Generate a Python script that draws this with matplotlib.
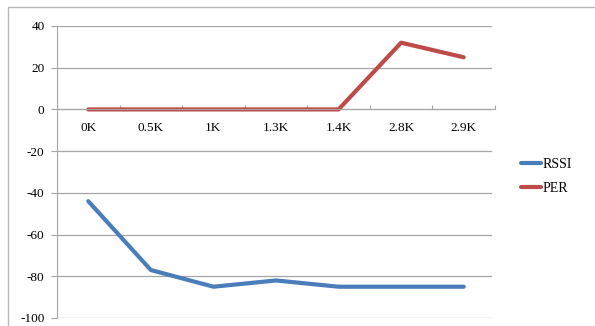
import matplotlib.pyplot as plt
from matplotlib.patches import Rectangle

# sample points along the x axis
distances = ['0K', '0.5K', '1K', '1.3K', '1.4K', '2.8K', '2.9K']
rssi = [-44, -77, -85, -82, -85, -85, -85]
per = [0, 0, 0, 0, 0, 32, 25]
y_ticks = [40, 20, 0, -20, -40, -60, -80, -100]

plt.rcParams['font.family'] = ['Liberation Serif', 'DejaVu Serif']

fig = plt.figure(figsize=(5.95, 3.26), dpi=100)
fig.patches.append(Rectangle((8 / 595, -0.05), 1.0, 1 - 7 / 326 + 0.05,
                             transform=fig.transFigure, fill=False,
                             edgecolor='#b8b8b8', linewidth=1.0))

ax = fig.add_axes([57 / 595, 8 / 326, 438 / 595, 292 / 326])
x = list(range(len(distances)))

ax.plot(x, rssi, color='#4a7ebb', linewidth=3, solid_capstyle='round', label='RSSI')
ax.plot(x, per, color='#be4b48', linewidth=3, solid_capstyle='round', label='PER')

ax.set_xlim(-0.5, len(distances) - 0.5)
ax.set_ylim(-100, 40)
ax.set_yticks(y_ticks)
ax.set_yticklabels([str(v) for v in y_ticks], fontsize=9.5)
for v in y_ticks:
    ax.axhline(v, xmin=0, xmax=0.99, color='#a6a6a6', linewidth=0.9, zorder=0)

# category axis sits on y = 0, labels just below it
ax.spines['bottom'].set_position(('data', 0))
ax.spines['bottom'].set_color('#a6a6a6')
ax.spines['bottom'].set_bounds(-0.5, 6.5)
ax.set_xticks([i - 0.5 for i in range(len(distances) + 1)])
ax.set_xticklabels([])
ax.tick_params(axis='x', length=3, color='#a6a6a6', direction='in')
for i, lbl in enumerate(distances):
    ax.text(i, -6, lbl, ha='center', va='top', fontsize=9.5)

ax.spines['top'].set_visible(False)
ax.spines['right'].set_visible(False)
ax.spines['left'].set_color('#a6a6a6')
ax.tick_params(axis='y', length=4, color='#a6a6a6', pad=5)

ax.legend(loc='upper left', bbox_to_anchor=(1.03, 0.59), frameon=False,
          fontsize=10, handlelength=1.5, handletextpad=0.05, labelspacing=0.75)

fig.savefig('out.png', dpi=100)
